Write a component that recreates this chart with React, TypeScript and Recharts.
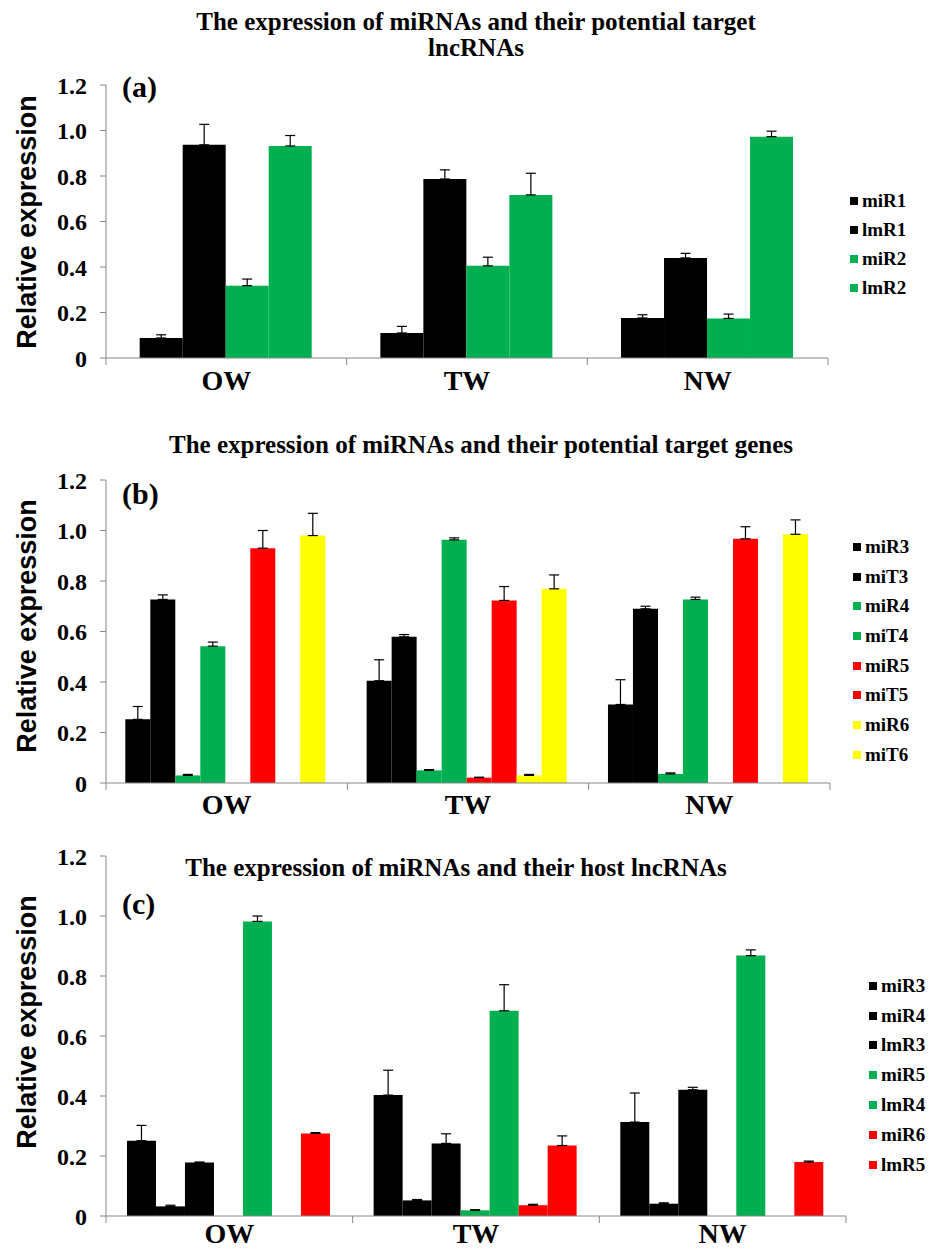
import React from 'react';
import { BarChart, Bar, XAxis, YAxis, ErrorBar, Legend, Label } from 'recharts';

const groups = ['OW', 'TW', 'NW'];
const yTicks = [0, 0.2, 0.4, 0.6, 0.8, 1.0, 1.2];

const BLACK = '#000000';
const GREEN = '#00B050';
const RED = '#FF0000';
const YELLOW = '#FFFF00';

// (a) miRNAs and their potential target lncRNAs
const aSeries = ['miR1', 'lmR1', 'miR2', 'lmR2'];
const aColors = [BLACK, BLACK, GREEN, GREEN];
const aMiR1 = [0.088, 0.11, 0.176];
const aLmR1 = [0.937, 0.787, 0.44];
const aMiR2 = [0.318, 0.405, 0.174];
const aLmR2 = [0.932, 0.717, 0.973];
const aMiR1Err = [0.014, 0.029, 0.014];
const aLmR1Err = [0.09, 0.04, 0.02];
const aMiR2Err = [0.029, 0.038, 0.019];
const aLmR2Err = [0.046, 0.095, 0.024];

// (b) miRNAs and their potential target genes
const bSeries = ['miR3', 'miT3', 'miR4', 'miT4', 'miR5', 'miT5', 'miR6', 'miT6'];
const bColors = [BLACK, BLACK, GREEN, GREEN, RED, RED, YELLOW, YELLOW];
const bMiR3 = [0.252, 0.405, 0.311];
const bMiT3 = [0.727, 0.579, 0.69];
const bMiR4 = [0.03, 0.05, 0.036];
const bMiT4 = [0.542, 0.963, 0.727];
const bMiR5 = [0, 0.021, 0];
const bMiT5 = [0.93, 0.723, 0.967];
const bMiR6 = [0, 0.03, 0];
const bMiT6 = [0.98, 0.769, 0.985];
const bMiR3Err = [0.051, 0.083, 0.098];
const bMiT3Err = [0.018, 0.009, 0.01];
const bMiR4Err = [0.004, 0.003, 0.004];
const bMiT4Err = [0.016, 0.008, 0.009];
const bMiR5Err = [null, 0.002, null];
const bMiT5Err = [0.07, 0.055, 0.048];
const bMiR6Err = [null, 0.004, null];
const bMiT6Err = [0.088, 0.055, 0.057];

// (c) miRNAs and their host lncRNAs
const cSeries = ['miR3', 'miR4', 'lmR3', 'miR5', 'lmR4', 'miR6', 'lmR5'];
const cColors = [BLACK, BLACK, BLACK, GREEN, GREEN, RED, RED];
const cMiR3 = [0.251, 0.403, 0.313];
const cMiR4 = [0.032, 0.052, 0.041];
const cLmR3 = [0.178, 0.242, 0.421];
const cMiR5 = [0, 0.019, 0];
const cLmR4 = [0.982, 0.684, 0.868];
const cMiR6 = [0, 0.036, 0];
const cLmR5 = [0.275, 0.235, 0.18];
const cMiR3Err = [0.051, 0.083, 0.097];
const cMiR4Err = [0.004, 0.003, 0.003];
const cLmR3Err = [0.002, 0.032, 0.008];
const cMiR5Err = [null, 0.002, null];
const cLmR4Err = [0.018, 0.087, 0.019];
const cMiR6Err = [null, 0.003, null];
const cLmR5Err = [0.003, 0.032, 0.003];

function buildRows(series: string[], values: number[][], errors: (number | null)[][]) {
  return groups.map((g, i) => {
    const row: any = { name: g };
    series.forEach((s, k) => {
      row[s] = values[k][i];
      const e = errors[k][i];
      row[s + '_e'] = e == null ? null : [0, e];
    });
    return row;
  });
}

const aData = buildRows(aSeries, [aMiR1, aLmR1, aMiR2, aLmR2], [aMiR1Err, aLmR1Err, aMiR2Err, aLmR2Err]);
const bData = buildRows(
  bSeries,
  [bMiR3, bMiT3, bMiR4, bMiT4, bMiR5, bMiT5, bMiR6, bMiT6],
  [bMiR3Err, bMiT3Err, bMiR4Err, bMiT4Err, bMiR5Err, bMiT5Err, bMiR6Err, bMiT6Err]
);
const cData = buildRows(
  cSeries,
  [cMiR3, cMiR4, cLmR3, cMiR5, cLmR4, cMiR6, cLmR5],
  [cMiR3Err, cMiR4Err, cLmR3Err, cMiR5Err, cLmR4Err, cMiR6Err, cLmR5Err]
);

const SERIF = "'Liberation Serif', 'Times New Roman', serif";
const SANS = "'Liberation Sans', Arial, sans-serif";
const AXIS = '#888888';
const X_AXIS_H = 50;

const legendContent = (series: string[], rowH: number) => (props: any) => {
  const items = [...(props.payload || [])].sort(
    (a: any, b: any) => series.indexOf(a.value) - series.indexOf(b.value)
  );
  return (
    <div>
      {items.map((p: any) => (
        <div
          key={p.value}
          style={{ height: rowH, display: 'flex', alignItems: 'center', fontFamily: SERIF, fontWeight: 'bold', fontSize: 19, color: '#000' }}
        >
          <span style={{ width: 8, height: 8, background: p.color, marginRight: 4, display: 'inline-block' }} />
          {p.value}
        </div>
      ))}
    </div>
  );
};

// category tick: label at band centre, tick marks at band edges (Excel style)
const CategoryTick = (axisY: number, band: number) => (props: any) => {
  const { x, y, index, payload } = props;
  const left = x - band / 2;
  return (
    <g>
      <line x1={left} x2={left} y1={axisY} y2={axisY + 7} stroke={AXIS} />
      {index === groups.length - 1 && (
        <line x1={x + band / 2} x2={x + band / 2} y1={axisY} y2={axisY + 7} stroke={AXIS} />
      )}
      <text
        x={x}
        y={y}
        dy="0.71em"
        textAnchor="middle"
        fontFamily={SERIF}
        fontWeight="bold"
        fontSize={28}
        fill="#000"
      >
        {payload.value}
      </text>
    </g>
  );
};

function Panel(props: {
  top: number;
  height: number;
  plotTop: number;
  right: number;
  data: any[];
  series: string[];
  colors: string[];
  gap: string;
  labelMargin: number;
  yLabelY: number;
  legendLeft: number;
  legendTop: number;
  legendRow: number;
}) {
  const p = props;
  const axisY = p.height - X_AXIS_H;
  const band = (930 - 106 - p.right) / groups.length;
  return (
    <div style={{ position: 'absolute', left: 0, top: p.top }}>
      <BarChart
        width={930}
        height={p.height}
        data={p.data}
        margin={{ top: p.plotTop, right: p.right, left: 0, bottom: 0 }}
        barCategoryGap={p.gap}
        barGap={0}
      >
        <XAxis
          dataKey="name"
          height={X_AXIS_H}
          axisLine={{ stroke: AXIS }}
          tickLine={false}
          tickSize={7}
          tickMargin={p.labelMargin}
          interval={0}
          tick={CategoryTick(axisY, band)}
        />
        <YAxis
          width={106}
          domain={[0, 1.2]}
          ticks={yTicks}
          interval={0}
          tickSize={6}
          tickMargin={13}
          axisLine={{ stroke: AXIS }}
          tickLine={{ stroke: AXIS }}
          tickFormatter={(v: number) => (v === 0 ? '0' : v.toFixed(1))}
          tick={{ fontFamily: SERIF, fontWeight: 'bold', fontSize: 24, fill: '#000' }}
        >
          <Label
            content={() => (
              <text
                x={27}
                y={p.yLabelY}
                transform={`rotate(-90, 27, ${p.yLabelY})`}
                textAnchor="middle"
                dominantBaseline="central"
                fontFamily={SANS}
                fontWeight="bold"
                fontSize={27}
                fill="#000"
              >
                Relative expression
              </text>
            )}
          />
        </YAxis>
        <Legend
          layout="vertical"
          align="center"
          verticalAlign="middle"
          wrapperStyle={{ left: p.legendLeft, top: p.legendTop, width: 80 }}
          content={legendContent(p.series, p.legendRow)}
        />
        {p.series.map((s, k) => (
          <Bar key={s} dataKey={s} name={s} fill={p.colors[k]} isAnimationActive={false}>
            <ErrorBar dataKey={s + '_e'} width={5} stroke="#000" strokeWidth={1.2} direction="y" />
          </Bar>
        ))}
      </BarChart>
    </div>
  );
}

const titleStyle: React.CSSProperties = {
  position: 'absolute',
  left: 0,
  width: 930,
  textAlign: 'center',
  fontFamily: SERIF,
  fontWeight: 'bold',
  fontSize: 25,
  color: '#000',
  lineHeight: '26px',
};

const letterStyle: React.CSSProperties = {
  position: 'absolute',
  left: 122,
  fontFamily: SERIF,
  fontWeight: 'bold',
  fontSize: 30,
  color: '#000',
  lineHeight: '30px',
};

export default function App() {
  return (
    <div style={{ position: 'absolute', left: 0, top: 0, width: 930, height: 1249, overflow: 'hidden', background: '#fff' }}>
      <Panel
        top={0}
        height={408}
        plotTop={85}
        right={102}
        data={aData}
        series={aSeries}
        colors={aColors}
        gap="14%"
        labelMargin={5}
        yLabelY={222}
        legendLeft={850}
        legendTop={186}
        legendRow={29}
      />
      <Panel
        top={400}
        height={433}
        plotTop={80}
        right={100}
        data={bData}
        series={bSeries}
        colors={bColors}
        gap="8%"
        labelMargin={4}
        yLabelY={226}
        legendLeft={853}
        legendTop={132}
        legendRow={29.7}
      />
      <Panel
        top={820}
        height={446}
        plotTop={36}
        right={84}
        data={cData}
        series={cSeries}
        colors={cColors}
        gap="8.5%"
        labelMargin={0}
        yLabelY={202}
        legendLeft={869}
        legendTop={151}
        legendRow={29.8}
      />
      <div style={{ ...titleStyle, top: 9, left: 11 }}>The expression of miRNAs and their potential target</div>
      <div style={{ ...titleStyle, top: 35, left: 11 }}>lncRNAs</div>
      <div style={{ ...titleStyle, top: 432, left: 16 }}>The expression of miRNAs and their potential target genes</div>
      <div style={{ ...titleStyle, top: 855, left: -9 }}>The expression of miRNAs and their host lncRNAs</div>
      <div style={{ ...letterStyle, top: 72 }}>(a)</div>
      <div style={{ ...letterStyle, top: 479 }}>(b)</div>
      <div style={{ ...letterStyle, top: 889 }}>(c)</div>
    </div>
  );
}
